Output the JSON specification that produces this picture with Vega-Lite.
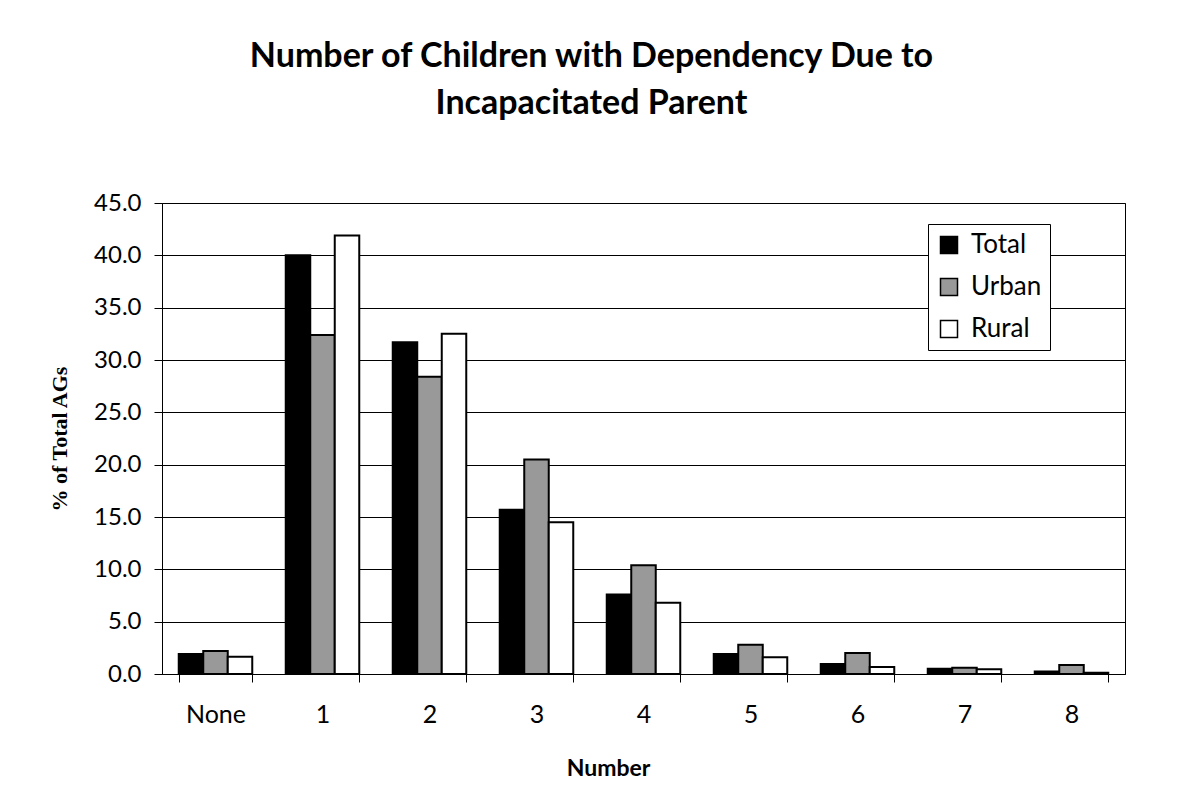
{
  "$schema": "https://vega.github.io/schema/vega-lite/v6.json",
  "width": 963,
  "height": 471,
  "autosize": {"type": "none"},
  "padding": {"left": 162, "top": 203, "right": 60, "bottom": 138},
  "background": "white",
  "title": {
    "text": ["Number of Children with Dependency Due to", "Incapacitated Parent"],
    "font": "Lato",
    "fontSize": 34,
    "fontWeight": "bold",
    "color": "black",
    "lineHeight": 47,
    "anchor": "middle",
    "frame": "group",
    "dx": -52,
    "offset": 70
  },
  "data": {
    "values": [
      {"category": "None", "series": "Total", "value": 1.9},
      {"category": "None", "series": "Urban", "value": 2.2},
      {"category": "None", "series": "Rural", "value": 1.65},
      {"category": "1", "series": "Total", "value": 40.0},
      {"category": "1", "series": "Urban", "value": 32.4},
      {"category": "1", "series": "Rural", "value": 41.9},
      {"category": "2", "series": "Total", "value": 31.7},
      {"category": "2", "series": "Urban", "value": 28.4},
      {"category": "2", "series": "Rural", "value": 32.5},
      {"category": "3", "series": "Total", "value": 15.7},
      {"category": "3", "series": "Urban", "value": 20.5},
      {"category": "3", "series": "Rural", "value": 14.5},
      {"category": "4", "series": "Total", "value": 7.6},
      {"category": "4", "series": "Urban", "value": 10.4},
      {"category": "4", "series": "Rural", "value": 6.8},
      {"category": "5", "series": "Total", "value": 1.9},
      {"category": "5", "series": "Urban", "value": 2.8},
      {"category": "5", "series": "Rural", "value": 1.6},
      {"category": "6", "series": "Total", "value": 0.95},
      {"category": "6", "series": "Urban", "value": 2.0},
      {"category": "6", "series": "Rural", "value": 0.67},
      {"category": "7", "series": "Total", "value": 0.5},
      {"category": "7", "series": "Urban", "value": 0.6},
      {"category": "7", "series": "Rural", "value": 0.45},
      {"category": "8", "series": "Total", "value": 0.25},
      {"category": "8", "series": "Urban", "value": 0.86},
      {"category": "8", "series": "Rural", "value": 0.12}
    ]
  },
  "mark": {"type": "bar", "stroke": "black", "strokeWidth": 2},
  "encoding": {
    "x": {
      "field": "category",
      "type": "nominal",
      "sort": ["None", "1", "2", "3", "4", "5", "6", "7", "8"],
      "scale": {"paddingInner": 0.313, "paddingOuter": 0.1565},
      "axis": {
        "title": "Number",
        "labelAngle": 0,
        "tickBand": "extent",
        "tickSize": 8,
        "labelPadding": 20,
        "titlePadding": 30,
        "titleX": 446,
        "titleFont": "Lato",
        "titleFontSize": 23,
        "titleFontWeight": "bold",
        "labelFontSize": 25,
        "grid": false
      }
    },
    "xOffset": {
      "field": "series",
      "type": "nominal",
      "sort": ["Total", "Urban", "Rural"]
    },
    "y": {
      "field": "value",
      "type": "quantitative",
      "scale": {"domain": [0, 45], "nice": false},
      "axis": {
        "title": "% of Total AGs",
        "values": [0, 5, 10, 15, 20, 25, 30, 35, 40, 45],
        "format": ".1f",
        "tickSize": 8,
        "labelPadding": 13,
        "labelFontSize": 24,
        "titleFont": "Liberation Serif",
        "titleFontSize": 22,
        "titleFontWeight": "bold",
        "titlePadding": 22,
        "grid": true,
        "gridColor": "black",
        "gridWidth": 1,
        "gridOpacity": 1
      }
    },
    "color": {
      "field": "series",
      "type": "nominal",
      "sort": ["Total", "Urban", "Rural"],
      "scale": {"domain": ["Total", "Urban", "Rural"], "range": ["#000000", "#999999", "#ffffff"]},
      "legend": {
        "title": null,
        "orient": "none",
        "legendX": 766,
        "legendY": 21,
        "strokeColor": "black",
        "fillColor": "white",
        "padding": 8,
        "symbolType": "square",
        "symbolSize": 289,
        "symbolStrokeColor": "black",
        "symbolStrokeWidth": 1.5,
        "symbolOpacity": 1,
        "labelFont": "Lato",
        "labelFontSize": 26,
        "labelColor": "black",
        "labelOffset": 9,
        "rowPadding": 16
      }
    }
  },
  "config": {
    "view": {"stroke": "black", "strokeWidth": 1},
    "axis": {
      "labelFont": "Lato",
      "labelFontSize": 24,
      "labelColor": "black",
      "titleColor": "black",
      "domainColor": "black",
      "tickColor": "black",
      "domainWidth": 1,
      "tickWidth": 1
    }
  }
}
